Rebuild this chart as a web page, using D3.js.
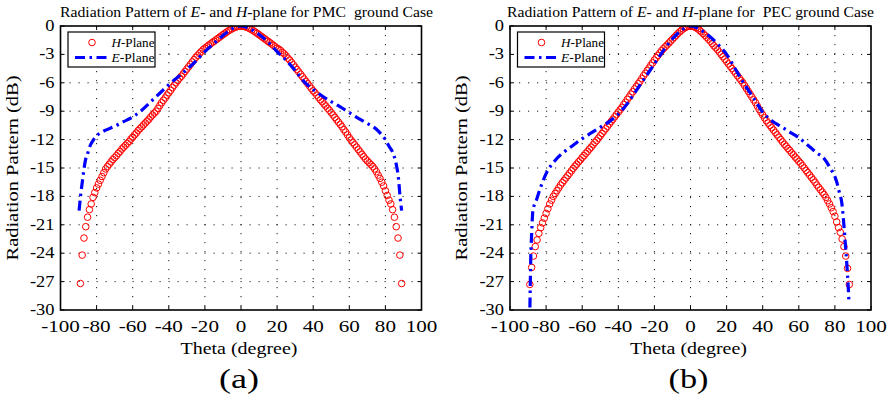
<!DOCTYPE html>
<html>
<head>
<meta charset="utf-8">
<script src="https://cdn.jsdelivr.net/npm/d3@7"></script>
<style>
  body { margin: 0; background: #fff; }
  text { font-family: "Liberation Serif", "Times New Roman", serif; fill: #000; white-space: pre; }
</style>
</head>
<body>
<div id="chart"></div>
<script>
// theta grid of the H-plane samples (degree)
var theta = [
 -89,-88,-87,-86,-85,-84,-83,-82,-81,-80,-79,-78,-77,-76,-75,-74,-73,-72,-71,-70,
 -69,-68,-67,-66,-65,-64,-63,-62,-61,-60,-59,-58,-57,-56,-55,-54,-53,-52,-51,-50,
 -49,-48,-47,-46,-45,-44,-43,-42,-41,-40,-39,-38,-37,-36,-35,-34,-33,-32,-31,-30,
 -29,-28,-27,-26,-25,-24,-23,-22,-21,-20,-19,-18,-17,-16,-15,-14,-13,-12,-11,-10,
 -9,-8,-7,-6,-5,-4,-3,-2,-1,0,1,2,3,4,5,6,7,8,9,10,
 11,12,13,14,15,16,17,18,19,20,21,22,23,24,25,26,27,28,29,30,
 31,32,33,34,35,36,37,38,39,40,41,42,43,44,45,46,47,48,49,50,
 51,52,53,54,55,56,57,58,59,60,61,62,63,64,65,66,67,68,69,70,
 71,72,73,74,75,76,77,78,79,80,81,82,83,84,85,86,87,88,89]

// (a) PMC ground, H-plane (dB)
var hPmc = [
 -27.2,-24.2,-22.4,-21.2,-20.2,-19.4,-18.8,-18.1,-17.6,-17.1,
 -16.7,-16.3,-15.9,-15.5,-15.1,-14.85,-14.6,-14.35,-14.1,-13.9,
 -13.7,-13.45,-13.25,-13.0,-12.8,-12.6,-12.4,-12.2,-11.95,-11.75,
 -11.5,-11.3,-11.05,-10.85,-10.65,-10.45,-10.25,-10.05,-9.85,-9.6,
 -9.4,-9.2,-9.0,-8.7,-8.4,-8.1,-7.85,-7.6,-7.3,-7.05,
 -6.8,-6.5,-6.25,-6.0,-5.75,-5.5,-5.3,-5.05,-4.8,-4.55,
 -4.3,-4.05,-3.8,-3.55,-3.3,-3.1,-2.9,-2.7,-2.5,-2.35,
 -2.2,-2.05,-1.9,-1.76,-1.62,-1.48,-1.34,-1.2,-1.06,-0.92,
 -0.78,-0.65,-0.52,-0.4,-0.3,-0.2,-0.12,-0.06,-0.02,
 0,
 -0.02,-0.06,-0.12,-0.2,-0.3,-0.4,-0.52,-0.65,-0.78,-0.92,
 -1.06,-1.2,-1.34,-1.48,-1.62,-1.76,-1.9,-2.05,-2.2,-2.35,
 -2.45,-2.6,-2.8,-2.95,-3.15,-3.4,-3.6,-3.85,-4.1,-4.35,
 -4.6,-4.85,-5.1,-5.35,-5.6,-5.85,-6.1,-6.35,-6.6,-6.85,
 -7.05,-7.3,-7.55,-7.8,-8.0,-8.25,-8.45,-8.7,-8.9,-9.15,
 -9.4,-9.65,-9.9,-10.15,-10.4,-10.65,-10.95,-11.2,-11.5,-11.8,
 -12.05,-12.3,-12.55,-12.8,-13.05,-13.3,-13.55,-13.8,-14.05,-14.25,
 -14.45,-14.65,-14.85,-15.1,-15.4,-15.75,-16.1,-16.5,-16.9,-17.4,
 -17.9,-18.4,-18.8,-19.4,-20.2,-21.2,-22.4,-24.2,-27.2]

// (b) PEC ground, H-plane (dB)
var hPec = [
 -27.3,-25.5,-24.3,-23.3,-22.6,-21.9,-21.3,-20.8,-20.3,-19.8,
 -19.3,-18.8,-18.4,-18.0,-17.7,-17.4,-17.1,-16.8,-16.55,-16.3,
 -16.05,-15.8,-15.55,-15.3,-15.05,-14.8,-14.6,-14.35,-14.15,-13.9,
 -13.7,-13.45,-13.25,-13.0,-12.8,-12.55,-12.3,-12.1,-11.85,-11.6,
 -11.35,-11.1,-10.85,-10.6,-10.35,-10.1,-9.85,-9.6,-9.35,-9.1,
 -8.85,-8.6,-8.3,-8.05,-7.75,-7.5,-7.2,-6.95,-6.65,-6.4,
 -6.1,-5.85,-5.55,-5.25,-5.0,-4.7,-4.45,-4.15,-3.9,-3.6,
 -3.35,-3.1,-2.85,-2.6,-2.4,-2.2,-2.0,-1.8,-1.6,-1.4,
 -1.2,-1.0,-0.8,-0.62,-0.45,-0.3,-0.18,-0.08,-0.02,
 0,
 -0.02,-0.08,-0.18,-0.3,-0.45,-0.62,-0.8,-1.0,-1.2,-1.4,
 -1.6,-1.85,-2.1,-2.3,-2.5,-2.75,-3.0,-3.25,-3.5,-3.75,
 -4.0,-4.25,-4.5,-4.75,-5.0,-5.25,-5.5,-5.75,-6.0,-6.3,
 -6.6,-6.9,-7.2,-7.5,-7.8,-8.1,-8.45,-8.8,-9.1,-9.4,
 -9.7,-10.0,-10.25,-10.5,-10.75,-11.0,-11.25,-11.5,-11.75,-12.0,
 -12.25,-12.5,-12.7,-12.95,-13.15,-13.4,-13.6,-13.85,-14.05,-14.3,
 -14.5,-14.75,-15.0,-15.25,-15.5,-15.75,-16.0,-16.25,-16.5,-16.8,
 -17.05,-17.3,-17.55,-17.8,-18.1,-18.45,-18.8,-19.2,-19.6,-20.1,
 -20.7,-21.3,-21.8,-22.5,-23.3,-24.3,-25.6,-27.3,null]

// E-plane curves (theta, dB)
var ePmcTheta = [-89.7,-88.8,-88,-87.2,-86.2,-85,-83.7,-82,-80,-78,-75,-70,-65,-60,-55,-50,-45,-40,-35,-30,-25,-20,-15,-10,-5,
 0,5,10,15,20,25,30,35,40,45,50,55,60,65,70,75,78,80,82,84.4,85.5,86.3,87.2,88.1,89]
var ePmcDb = [-19.5,-17.8,-16.6,-15.4,-14.2,-13.5,-12.7,-12.1,-11.6,-11.3,-11.0,-10.6,-10.1,-9.6,-8.9,-8.0,-7.1,-6.2,-5.4,-4.6,-3.7,-2.7,-1.85,-1.0,-0.3,
 0,-0.3,-0.9,-1.7,-2.7,-3.6,-4.7,-5.9,-6.7,-7.4,-8.0,-8.55,-9.15,-9.75,-10.3,-10.9,-11.5,-12.0,-12.7,-13.5,-14.2,-14.9,-16.0,-18.0,-19.5]

var ePecTheta = [-89.2,-89,-88.5,-88,-87.3,-85.4,-83.5,-80,-75,-70,-65,-60,-55,-50,-45,-40,-35,-30,-25,-20,-15,-10,-5,
 0,5,10,15,20,25,30,35,40,45,50,55,60,65,70,74,78,80,81.2,82.5,83.9,84.8,85.7,86.7,87.3,87.8]
var ePecDb = [-32,-30,-24.5,-21.9,-19.5,-18.4,-17.3,-15.6,-14.2,-13.3,-12.6,-11.9,-11.3,-10.7,-10.1,-9.3,-8.2,-6.8,-5.4,-4.0,-2.6,-1.35,-0.45,
 0,-0.35,-1.0,-1.9,-3.0,-4.6,-6.2,-7.6,-9.1,-10.0,-10.6,-11.2,-11.8,-12.6,-13.4,-14.0,-15.2,-15.9,-16.6,-17.6,-18.8,-20.6,-22.8,-25.4,-27.3,-29.2]

var xTicks = [-100,-80,-60,-40,-20,0,20,40,60,80,100]
var yTicks = [0,-3,-6,-9,-12,-15,-18,-21,-24,-27,-30]
var legendLabels = [["H","-Plane"],["E","-Plane"]]

var panels = [
  {left:60.5, right:421.5, title:["Radiation Pattern of ","E","- and ","H","-plane for PMC  ground Case"],
   titleX:60, titleLen:373, tag:"(a)", ylabX:18, h:hPmc, eT:ePmcTheta, eD:ePmcDb},
  {left:510, right:871, title:["Radiation Pattern of ","E","- and ","H","-plane for  PEC ground Case"],
   titleX:507, titleLen:367, tag:"(b)", ylabX:467, h:hPec, eT:ePecTheta, eD:ePecDb}
]

var TOP = 26, BOTTOM = 310

var svg = d3.select("#chart").append("svg")
  .attr("width", 894).attr("height", 402)

svg.append("rect").attr("width",894).attr("height",402).attr("fill","#fff")

function stretchText(g, str, x, y, size, sx, anchor){
  return g.append("text")
    .attr("transform", "translate(" + x + "," + y + ") scale(" + sx + ",1)")
    .attr("text-anchor", anchor)
    .style("font-size", size + "px")
    .text(str)
}

panels.forEach(function(p, pi){
  var x = d3.scaleLinear().domain([-100,100]).range([p.left, p.right])
  var y = d3.scaleLinear().domain([-30,0]).range([BOTTOM, TOP])
  var g = svg.append("g")

  var clipId = "clip" + pi
  g.append("clipPath").attr("id", clipId)
    .append("rect").attr("x", p.left).attr("y", TOP)
    .attr("width", p.right - p.left).attr("height", BOTTOM - TOP)

  // dotted grid
  g.selectAll(".vg").data(xTicks.slice(1,-1)).enter().append("line")
    .attr("x1", function(d){ return x(d) }).attr("x2", function(d){ return x(d) })
    .attr("y1", TOP).attr("y2", BOTTOM)
    .attr("stroke","#000").attr("stroke-width",0.9).attr("stroke-dasharray","1.2,7.8")
  g.selectAll(".hg").data(yTicks.slice(1,-1)).enter().append("line")
    .attr("y1", function(d){ return y(d) }).attr("y2", function(d){ return y(d) })
    .attr("x1", p.left).attr("x2", p.right)
    .attr("stroke","#000").attr("stroke-width",0.9).attr("stroke-dasharray","1.2,7.8")

  // inward ticks on all four sides
  xTicks.forEach(function(d){
    g.append("line").attr("x1",x(d)).attr("x2",x(d)).attr("y1",BOTTOM).attr("y2",BOTTOM-4).attr("stroke","#000")
    g.append("line").attr("x1",x(d)).attr("x2",x(d)).attr("y1",TOP).attr("y2",TOP+4).attr("stroke","#000")
  })
  yTicks.forEach(function(d){
    g.append("line").attr("y1",y(d)).attr("y2",y(d)).attr("x1",p.left).attr("x2",p.left+4).attr("stroke","#000")
    g.append("line").attr("y1",y(d)).attr("y2",y(d)).attr("x1",p.right).attr("x2",p.right-4).attr("stroke","#000")
  })

  var plot = g.append("g").attr("clip-path","url(#" + clipId + ")")

  // H-plane: open red circles
  var hPts = theta.map(function(t, i){ return [t, p.h[i]] }).filter(function(d){ return d[1] !== null })
  plot.selectAll("circle").data(hPts).enter().append("circle")
    .attr("cx", function(d){ return x(d[0]) })
    .attr("cy", function(d){ return y(d[1]) })
    .attr("r", 3.3)
    .attr("fill","none").attr("stroke","#ff0000").attr("stroke-width",1)

  // E-plane: blue dash-dot line
  var ePts = p.eT.map(function(t, i){ return [t, p.eD[i]] })
  var line = d3.line().x(function(d){ return x(d[0]) }).y(function(d){ return y(d[1]) }).curve(d3.curveMonotoneX)
  plot.append("path").datum(ePts).attr("d", line)
    .attr("fill","none").attr("stroke","#0000ff").attr("stroke-width",3.2)
    .attr("stroke-dasharray","10,4.5,2.5,4.5")

  // frame
  g.append("rect").attr("x",p.left).attr("y",TOP).attr("width",p.right-p.left).attr("height",BOTTOM-TOP)
    .attr("fill","none").attr("stroke","#000").attr("stroke-width",1.6)

  // tick labels
  xTicks.forEach(function(d){
    stretchText(g, String(d), x(d), 331.5, 16.5, 1.28, "middle")
  })
  yTicks.forEach(function(d){
    stretchText(g, String(d), p.left - 6, y(d) + 5, 16, 1.15, "end")
  })

  // title
  var t = g.append("text").attr("x", p.titleX).attr("y", 16.5)
    .attr("textLength", p.titleLen).attr("lengthAdjust","spacingAndGlyphs")
    .style("font-size","15px")
  p.title.forEach(function(s, i){
    t.append("tspan").style("font-style", (i == 1 || i == 3) ? "italic" : "normal").text(s)
  })

  // axis labels
  var cx = (p.left + p.right) / 2 - 2
  g.append("text").attr("x", cx - 58.5).attr("y", 354)
    .attr("textLength",117).attr("lengthAdjust","spacingAndGlyphs")
    .style("font-size","17px").text("Theta (degree)")
  g.append("text").attr("transform","translate(" + p.ylabX + ",168) rotate(-90)")
    .attr("x", -92.5).attr("y", 0)
    .attr("textLength",185).attr("lengthAdjust","spacingAndGlyphs")
    .style("font-size","17px").text("Radiation Pattern (dB)")
  g.append("text").attr("x", cx - 20).attr("y", 388)
    .attr("textLength",40).attr("lengthAdjust","spacingAndGlyphs")
    .style("font-size","27px").text(p.tag)

  // legend
  var lx = p.left + 7.5, ly = 32
  var lg = g.append("g")
  lg.append("rect").attr("x",lx).attr("y",ly).attr("width",87).attr("height",35)
    .attr("fill","#fff").attr("stroke","#000").attr("stroke-width",1.2)
  lg.append("circle").attr("cx",lx+24).attr("cy",ly+10.5).attr("r",3.3)
    .attr("fill","none").attr("stroke","#ff0000").attr("stroke-width",1)
  lg.append("line").attr("x1",lx+7).attr("x2",lx+39).attr("y1",ly+25.5).attr("y2",ly+25.5)
    .attr("stroke","#0000ff").attr("stroke-width",3.2).attr("stroke-dasharray","10,4.5,2.5,4.5")
  legendLabels.forEach(function(l, i){
    var tx = lg.append("text").attr("x", lx+43.5).attr("y", ly + 14.5 + i*15.5)
      .attr("textLength",43).attr("lengthAdjust","spacingAndGlyphs")
      .style("font-size","13.5px")
    tx.append("tspan").style("font-style","italic").text(l[0])
    tx.append("tspan").text(l[1])
  })
})
</script>
</body>
</html>
